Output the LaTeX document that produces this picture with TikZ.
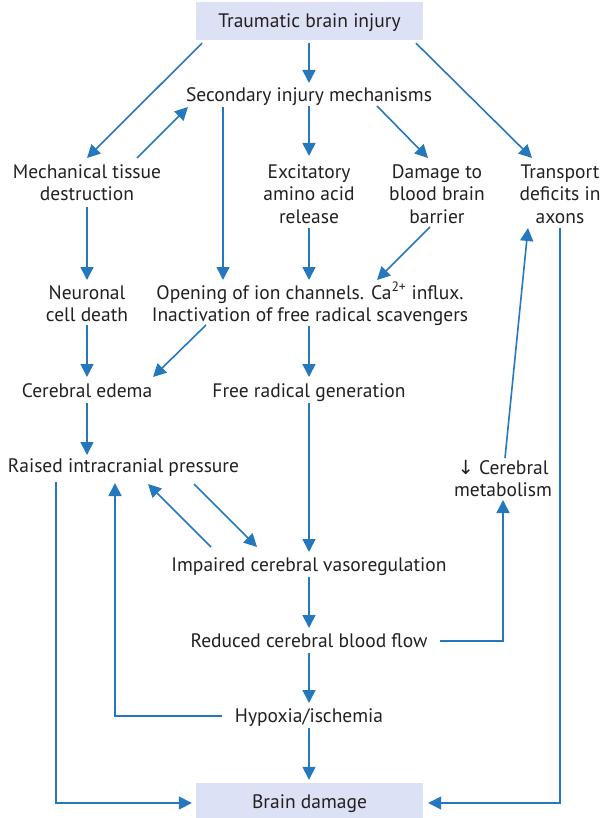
\documentclass[tikz,border=0pt]{standalone}
\usepackage{fontspec}
\setmainfont{PT Sans}
\newfontfamily\symf{DejaVu Sans}
\usetikzlibrary{arrows.meta,calc}
\definecolor{flow}{RGB}{38,120,190}
\definecolor{boxfill}{RGB}{221,225,246}
\definecolor{txt}{RGB}{35,31,32}
\begin{document}
\begin{tikzpicture}[x=1pt,y=-1pt,
  lbl/.style={font=\fontsize{19.5}{22}\selectfont, text=txt, align=center, inner sep=0pt, anchor=base},
  hbox/.style={font=\fontsize{19.5}{22}\selectfont, text=txt, fill=boxfill, minimum width=227pt, inner sep=0pt},
  arr/.style={draw=flow, line width=1.6pt, -{Triangle[length=13pt,width=13pt]}}]
\useasboundingbox (0,0) rectangle (605,818);
% nodes (base = baseline of the last line)
\node[hbox, minimum height=38pt, text height=16pt, text depth=2pt] (tbi) at (309.5,21) {Traumatic brain injury};
\node[lbl] (sec) at (309,102) {Secondary injury mechanisms};
\node[lbl] (mech) at (87,201) {Mechanical tissue\\destruction};
\node[lbl] (exc) at (309,223) {Excitatory\\amino acid\\release};
\node[lbl] (bbb) at (437,223) {Damage to\\blood brain\\barrier};
\node[lbl] (trans) at (560,223) {Transport\\deficits in\\axons};
\node[lbl] (neur) at (87,321) {Neuronal\\cell death};
\node[lbl] (ion) at (310,321) {Opening of ion channels. Ca\textsuperscript{2+} influx.\\Inactivation of free radical scavengers};
\node[lbl] (edema) at (87,397) {Cerebral edema};
\node[lbl] (frg) at (309,397) {Free radical generation};
\node[lbl] (icp) at (123.5,472) {Raised intracranial pressure};
\node[lbl] (metab) at (503,496) {{\symf ↓} Cerebral\\metabolism};
\node[lbl] (icv) at (309,571) {Impaired cerebral vasoregulation};
\node[lbl] (rcbf) at (309,647) {Reduced cerebral blood flow};
\node[lbl] (hyp) at (309,722) {Hypoxia/ischemia};
\node[hbox, minimum height=40pt, text height=14pt, text depth=4pt] (bd) at (309.5,803) {Brain damage};
% connectors
\draw[arr] ($(tbi.south)+(-107.5,3)$) -- ($(mech.base)+(0,-43)$);
\draw[arr] ($(tbi.south)+(-0.5,3)$) -- ($(sec.base)+(0,-19)$);
\draw[arr] ($(tbi.south)+(106.5,3)$) -- ($(trans.base)+(-28,-65)$);
\draw[arr] ($(mech.base)+(50,-43)$) -- ($(sec.base)+(-121,5)$);
\draw[arr] ($(sec.base)+(-86,5)$) -- ($(ion.base)+(-87,-41)$);
\draw[arr] ($(sec.base)+(0,4)$) -- ($(exc.base)+(0,-67)$);
\draw[arr] ($(sec.base)+(68,4)$) -- ($(bbb.base)+(-9,-65)$);
\draw[arr] ($(mech.base)+(0,6)$) -- ($(neur.base)+(0,-41)$);
\draw[arr] ($(exc.base)+(0,5)$) -- ($(ion.base)+(-1,-41)$);
\draw[arr] ($(bbb.base)+(-7,4)$) -- ($(ion.base)+(67,-41)$);
\draw[arr] ($(neur.base)+(0,4)$) -- ($(edema.base)+(0,-20)$);
\draw[arr] ($(ion.base)+(-104,4)$) -- ($(edema.base)+(66,-20)$);
\draw[arr] ($(ion.base)+(-1,5)$) -- ($(frg.base)+(0,-20)$);
\draw[arr] ($(edema.base)+(0,6)$) -- ($(icp.base)+(-36.5,-17)$);
\draw[arr] ($(frg.base)+(0,6)$) -- ($(icv.base)+(0,-19)$);
\draw[arr] ($(icp.base)+(70.5,12)$) -- ($(icv.base)+(-52,-24)$);
\draw[arr] ($(icv.base)+(-98,-24)$) -- ($(icp.base)+(24.5,12)$);
\draw[arr] ($(icv.base)+(0,6)$) -- ($(rcbf.base)+(0,-19)$);
\draw[arr] ($(rcbf.base)+(131,-6)$) -| ($(metab.base)+(0,4)$);
\draw[arr] ($(metab.base)+(2,-38)$) -- ($(trans.base)+(-32,5)$);
\draw[arr] ($(rcbf.base)+(0,6)$) -- ($(hyp.base)+(0,-19)$);
\draw[arr] ($(hyp.base)+(-87,-6)$) -| ($(icp.base)+(-8.5,11)$);
\draw[arr] ($(hyp.base)+(0,6)$) -- ($(bd.north)+(-0.5,-3)$);
\draw[arr] ($(icp.base)+(-67.5,10)$) |- ($(bd.west)+(-4,0)$);
\draw[arr] ($(trans.base)+(0,5)$) |- ($(bd.east)+(5,0)$);
\end{tikzpicture}
\end{document}
